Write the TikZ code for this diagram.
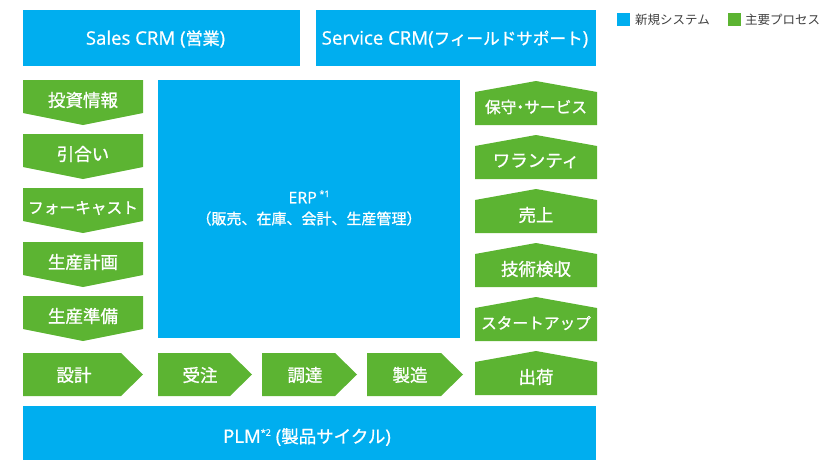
\documentclass[tikz,border=0pt]{standalone}
\usepackage{fontspec}
\setmainfont{Noto Sans CJK JP}
\newfontfamily\jpm{Noto Sans CJK JP}[FakeBold=1.0]
\newfontfamily\latm{Open Sans}[FakeBold=0.7]
\definecolor{sysblue}{RGB}{0,174,239}
\definecolor{procgreen}{RGB}{92,180,50}
\definecolor{legtext}{RGB}{64,64,64}
\newcommand\gdown[3]{%
  \fill[procgreen] (23,#2) -- (143,#2) -- (143,#2+33) -- (83,#2+45) -- (23,#2+33) -- cycle;
  \node[wlabel] (#1) at (83,#2+20) {#3};}
\newcommand\gup[3]{%
  \fill[procgreen] (475,#2+11) -- (536,#2) -- (597,#2+11) -- (597,#2+44) -- (475,#2+44) -- cycle;
  \node[wlabel] (#1) at (536,#2+26) {#3};}
\newcommand\gright[5]{% name, left, body right, text x, text
  \fill[procgreen] (#2,353) -- (#3,353) -- (#3+22,374.5) -- (#3,396) -- (#2,396) -- cycle;
  \node[wlabel] (#1) at (#4,375) {#5};}
\newcommand\LL[1]{{\latm\fontsize{18.6}{20}\selectfont #1}}
\newcommand\Lsup[1]{\raisebox{0.75ex}{\latm\fontsize{9}{10}\selectfont #1}}
\newcommand\smallj{\fontsize{15.7}{18}\selectfont}
\begin{document}
\begin{tikzpicture}[x=1pt,y=-1pt,
  bluebox/.style={fill=sysblue, draw=none, text=white, inner sep=0pt},
  btext/.style={text=white, inner sep=0pt, font=\jpm\fontsize{17}{19}\selectfont},
  wlabel/.style={text=white, inner sep=0pt, font=\jpm\fontsize{17.5}{20}\selectfont},
  legendlabel/.style={text=legtext, inner sep=0pt, anchor=west, font=\fontsize{12.5}{14}\selectfont}]
\useasboundingbox (0,0) rectangle (834,460);
% top blue boxes
\node[bluebox, minimum width=277pt, minimum height=56pt] (sales) at (161.5,38) {};
\node[btext] (salest) at (155.5,39) {\LL{Sales CRM (}営業\LL{)}};
\node[bluebox, minimum width=280pt, minimum height=56pt] (service) at (456,38) {};
\node[btext, font=\jpm\fontsize{16.6}{19}\selectfont] (servicet) at (455,39) {\LL{Service CRM(}フィールドサポート\LL{)}};
% ERP
\node[bluebox, minimum width=302pt, minimum height=258pt] (erpbox) at (309,209) {};
\node[text=white, inner sep=0pt, align=center, font=\jpm\fontsize{15}{21}\selectfont] (erp) at (309,208)
  {{\latm\fontsize{16}{18}\selectfont ERP}\,\Lsup{*1}\\（販売、在庫、会計、生産管理）};
% PLM
\fill[sysblue] (23,406) rectangle (596,460);
\node[btext, font=\jpm\fontsize{17.5}{19}\selectfont] (plm) at (307,437) {\LL{PLM}\Lsup{*2}\LL{ (}製品サイクル\LL{)}};
% left column
\gdown{a1}{80}{投資情報}
\gdown{a2}{134}{引合い}
\gdown{a3}{188}{\smallj フォーキャスト}
\gdown{a4}{242}{生産計画}
\gdown{a5}{296}{生産準備}
% right column
\gup{b1}{81}{\smallj 保守\kern-0.25em・\kern-0.25em サービス}
\gup{b2}{135}{ワランティ}
\gup{b3}{189}{売上}
\gup{b4}{243}{技術検収}
\gup{b5}{297}{\smallj スタートアップ}
\gup{b6}{351}{出荷}
% bottom row
\gright{c1}{23}{121}{74}{設計}
\gright{c2}{158}{230}{200}{受注}
\gright{c3}{262}{335}{305}{調達}
\gright{c4}{367}{441}{410}{製造}
% legend
\fill[sysblue] (617,13) rectangle (630,26);
\node[legendlabel] (leg1) at (635,19.5) {新規システム};
\fill[procgreen] (728,13) rectangle (741,26);
\node[legendlabel] (leg2) at (745,19.5) {主要プロセス};
\end{tikzpicture}
\end{document}
